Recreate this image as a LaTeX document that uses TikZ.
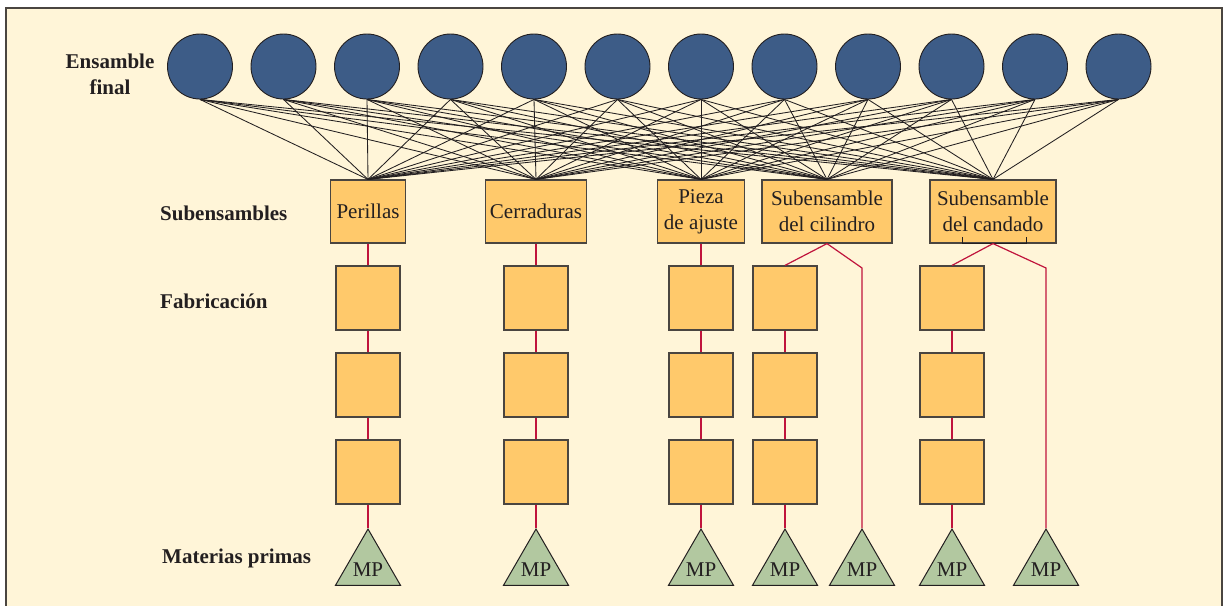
\documentclass[tikz,border=0pt]{standalone}
\usepackage{fontspec}
\setmainfont{Liberation Serif}
\usetikzlibrary{shapes.geometric}
\definecolor{bg}{HTML}{FFF5D8}
\definecolor{circ}{HTML}{3D5C87}
\definecolor{boxc}{HTML}{FFC96B}
\definecolor{tri}{HTML}{B2C8A0}
\definecolor{redl}{HTML}{C0143C}
\definecolor{ink}{HTML}{231F20}
\definecolor{edge}{HTML}{4A4540}
\begin{document}
\begin{tikzpicture}[x=1pt,y=-1pt,
 ball/.style={circle,draw=ink,fill=circ,line width=0.9pt,minimum size=65pt,inner sep=0pt},
 subbox/.style={draw=edge,fill=boxc,line width=1.2pt,minimum height=63pt,inner sep=0pt,align=center,font=\fontsize{21}{26}\selectfont,text=ink},
 fabbox/.style={draw=edge,fill=boxc,line width=1.2pt,minimum size=64pt,inner sep=0pt},
 mptri/.style={regular polygon,regular polygon sides=3,draw=ink,fill=tri,line width=1pt,minimum size=75pt,inner sep=0pt},
 mptext/.style={inner sep=0pt,font=\fontsize{21}{26}\selectfont,text=ink},
 link/.style={draw=ink,line width=0.85pt},
 flow/.style={draw=redl,line width=1.2pt},
 lbl/.style={inner sep=0pt,font=\bfseries\fontsize{21}{26}\selectfont,text=ink}
]
\useasboundingbox (0,0) rectangle (1223,605);
\draw[fill=bg,draw=edge,line width=1.3pt] (6,8) rectangle (1222,625);

% final assemblies
\foreach \i in {1,...,12}
  \node[ball] (c\i) at ({200+(\i-1)*83.5},66.5) {};

% subassemblies
\node[subbox,minimum width=75pt]  (s1) at (368,211.5) {Perillas};
\node[subbox,minimum width=101pt] (s2) at (536,211.5) {Cerraduras};
\node[subbox,minimum width=87pt]  (s3) at (701,211.5) {Pieza\\de ajuste};
\node[subbox,minimum width=130pt] (s4) at (827,211.5) {Subensamble\\del cilindro};
\node[subbox,minimum width=126pt] (s5) at (993,211.5) {Subensamble\\del candado};
\draw[draw=ink,line width=0.8pt] (962,237) -- (962,243) -- (1026,243) -- (1026,237);

% links
\foreach \i in {1,...,12}
  \foreach \j in {1,...,5}
    \draw[link] (c\i.south) -- (s\j.north);

% fabrication
\foreach \x [count=\k] in {368,536,701,785,952}
  \foreach \y [count=\r] in {298,385,472}
    \node[fabbox] (f\k\r) at (\x,\y) {};

% raw materials
\foreach \x [count=\k] in {368,536,701,785,862,952,1046}{
  \node[mptri] (t\k) at (\x,566.5) {};
  \node[mptext] (m\k) at ([yshift=-3pt]t\k.center) {MP};
}

\coordinate (k4) at (862,268);
\coordinate (k5) at (1046,268);

% flows
\foreach \k/\t in {1/1,2/2,3/3,4/4,5/6}{
  \draw[flow] (s\k.south) -- (f\k1.north);
  \draw[flow] (f\k1.south) -- (f\k2.north);
  \draw[flow] (f\k2.south) -- (f\k3.north);
  \draw[flow] (f\k3.south) -- (t\t.corner 1);
}
\draw[flow] (s4.south) -- (k4) -- (t5.corner 1);
\draw[flow] (s5.south) -- (k5) -- (t7.corner 1);

% row labels
\node[lbl,align=center] (lef) at (110,74) {Ensamble\\final};
\node[lbl,anchor=base west] (lsub) at (160,220) {Subensambles};
\node[lbl,anchor=base west] (lfab) at (160,308) {Fabricación};
\node[lbl,anchor=base west] (lmp) at (162,563) {Materias primas};
\end{tikzpicture}
\end{document}
